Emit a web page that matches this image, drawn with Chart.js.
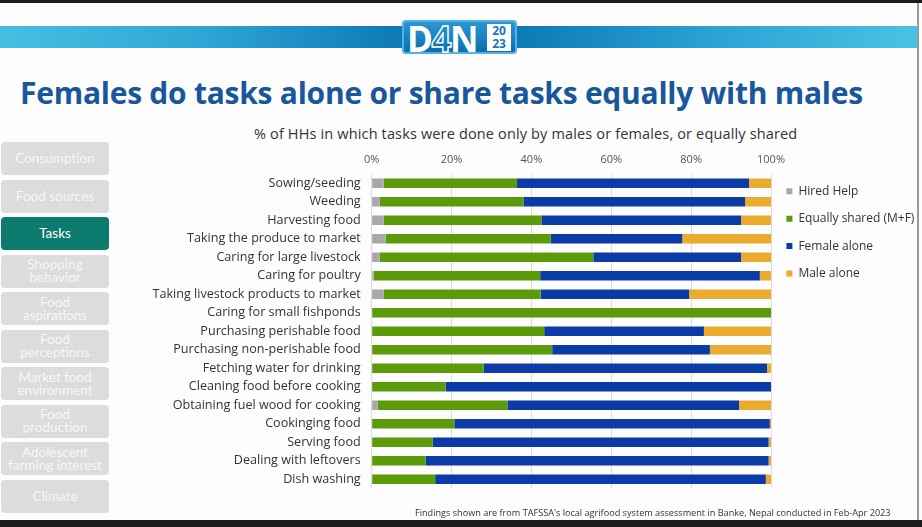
<!DOCTYPE html>
<html>
<head>
<meta charset="utf-8">
<script src="https://cdn.jsdelivr.net/npm/chart.js@4.4.1/dist/chart.umd.min.js"></script>
<style>
  html, body { margin: 0; padding: 0; }
  body { width: 922px; height: 527px; overflow: hidden; background: #fdfdfd; position: relative; font-family: 'Open Sans', sans-serif; }
  .topbar { position: absolute; left: 0; top: 0; width: 922px; height: 3px; background: #1b1b1b; }
  .botbar { position: absolute; left: 0; top: 520px; width: 922px; height: 7px; background: #1b1b1b; }
  .rightline { position: absolute; left: 917px; top: 3px; width: 2px; height: 517px; background: #9a9a9a; }
  .band { position: absolute; left: 0; top: 26px; width: 917px; height: 22px;
    background: linear-gradient(to right, #44bfe2 0%, #2ea6d6 22%, #0d7bb8 43%, #0d7bb8 57%, #2aa3d5 78%, #46c3e4 100%); }
  .logo { position: absolute; left: 402px; top: 20px; width: 111px; height: 30px; border: 2px solid #4fb3e3;
    border-radius: 4px; background: linear-gradient(#2a97d3, #0b6eae); }
  .logo .d4n { position: absolute; left: 3px; top: -7px; font: bold 35px 'Open Sans', sans-serif; color: #fff; letter-spacing: -1.5px; }
  .logo .d4n span { color: transparent; -webkit-text-stroke: 1.4px #fff; }
  .logo .yr { position: absolute; left: 83px; top: 2px; width: 24px; height: 27px; background: #fff;
    font: bold 12px/12.5px 'Open Sans', sans-serif; color: #1b74b8; text-align: center; padding-top: 1px; box-sizing: border-box; }
  h1 { position: absolute; left: 20px; top: 72px; margin: 0; font: bold 30px 'Open Sans', sans-serif; color: #18579a; white-space: nowrap; letter-spacing: -0.25px; }
  .sub { position: absolute; left: 254px; top: 124px; font-size: 14.5px; color: #333; white-space: nowrap; letter-spacing: 0.15px; }
  .side { position: absolute; left: 1px; width: 108px; height: 33px; border-radius: 4px; background: #dcdcdc;
    color: #f7f7f7; font: 13.5px/13px Lato, sans-serif; display: flex; align-items: center; justify-content: center; text-align: center; }
  .side.on { background: #0c7a6c; color: #fff; }
  .note { position: absolute; left: 415px; top: 506px; font-size: 9.15px; color: #333; white-space: nowrap; }
  #wrap { position: absolute; left: 112px; top: 150px; width: 812.4px; height: 357px; }
</style>
</head>
<body>
<div class="topbar"></div>
<div class="band"></div>
<div class="logo"><div class="d4n">D<span>4</span>N</div><div class="yr">20<br>23</div></div>
<div class="rightline"></div>
<h1>Females do tasks alone or share tasks equally with males</h1>
<div class="sub">% of HHs in which tasks were done only by males or females, or equally shared</div>
<div id="side"></div>
<div id="wrap"><canvas id="chart"></canvas></div>
<div class="note">Findings shown are from TAFSSA's local agrifood system assessment in Banke, Nepal conducted in Feb-Apr 2023</div>
<div class="botbar"></div>

<script>
// -------------------------
// Data (% of households)
// -------------------------
const TASKS = [
  "Sowing/seeding", "Weeding", "Harvesting food", "Taking the produce to market",
  "Caring for large livestock", "Caring for poultry", "Taking livestock products to market",
  "Caring for small fishponds", "Purchasing perishable food", "Purchasing non-perishable food",
  "Fetching water for drinking", "Cleaning food before cooking", "Obtaining fuel wood for cooking",
  "Cookinging food", "Serving food", "Dealing with leftovers", "Dish washing"
];
const HIRED  = [3, 2, 3, 3.5, 2, 0.5, 3, 0, 0, 0, 0, 0, 1.5, 0, 0, 0, 0];
const SHARED = [33.4, 36, 39.5, 41.3, 53.5, 41.7, 39.3, 100, 43.2, 45.2, 28, 18.5, 32.5, 20.7, 15.3, 13.5, 15.9];
const FEMALE = [58.1, 55.5, 50, 33, 37, 55, 37.2, 0, 40, 39.5, 71, 81.5, 58, 79, 84.1, 85.9, 82.8];
const MALE   = [5.5, 6.5, 7.5, 22.2, 7.5, 2.8, 20.5, 0, 16.8, 15.3, 1, 0, 8, 0.3, 0.6, 0.6, 1.3];
const X_TICKS = [0, 20, 40, 60, 80, 100];

const SIDE_ITEMS = ["Consumption", "Food sources", "Tasks", "Shopping<br>behavior", "Food<br>aspirations",
  "Food<br>perceptions", "Market food<br>environment", "Food<br>production", "Adolescent<br>farming interest", "Climate"];

// -------------------------
// Sidebar
// -------------------------
const side = document.getElementById('side');
SIDE_ITEMS.forEach((label, i) => {
  const d = document.createElement('div');
  d.className = 'side' + (label === 'Tasks' ? ' on' : '');
  d.style.top = (142 + i * 37.5) + 'px';
  d.innerHTML = label;
  side.appendChild(d);
});

// -------------------------
// Chart
// -------------------------
Chart.defaults.font.family = "'Open Sans', sans-serif";
Chart.defaults.color = '#333';

const series = [
  { label: 'Hired Help', data: HIRED, color: '#a8a8a8' },
  { label: 'Equally shared (M+F)', data: SHARED, color: '#5b9b0a' },
  { label: 'Female alone', data: FEMALE, color: '#0b3ba6' },
  { label: 'Male alone', data: MALE, color: '#ebab2f' }
];

new Chart(document.getElementById('chart'), {
  type: 'bar',
  data: {
    labels: TASKS,
    datasets: series.map(s => ({
      label: s.label,
      data: s.data,
      backgroundColor: s.color,
      borderWidth: 0,
      categoryPercentage: 0.52,
      barPercentage: 1
    }))
  },
  options: {
    indexAxis: 'y',
    responsive: true,
    maintainAspectRatio: false,
    animation: false,
    layout: { padding: { bottom: 12.5 } },
    plugins: {
      tooltip: { enabled: false },
      legend: {
        position: 'right',
        align: 'start',
        title: { display: true, text: ' ', font: { size: 12 }, padding: { top: 0, bottom: 5.5 } },
        labels: {
          boxWidth: 6, boxHeight: 6, padding: 15.4,
          font: { size: 12 }, color: '#333'
        }
      }
    },
    scales: {
      x: {
        position: 'top',
        stacked: true,
        min: 0, max: 100,
        afterBuildTicks: (axis) => { axis.ticks = X_TICKS.map(v => ({ value: v })); },
        afterFit: (scale) => { scale.height = 24; },
        grid: { color: '#dcdcdc', drawTicks: false },
        border: { display: false },
        ticks: { padding: 8, font: { size: 11 }, color: '#555', callback: (v) => v + '%' }
      },
      y: {
        stacked: true,
        afterFit: (scale) => { scale.width = 259.7; },
        grid: { display: false, drawTicks: false },
        border: { display: false },
        ticks: { padding: 11, font: { size: 12.6 }, color: '#333', autoSkip: false }
      }
    }
  }
});
</script>
</body>
</html>
